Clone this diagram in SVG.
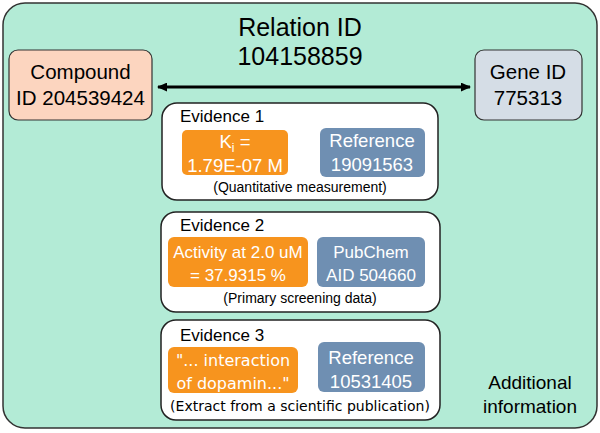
<svg xmlns="http://www.w3.org/2000/svg" width="600" height="433" viewBox="0 0 600 433">
<defs>
<style>
text{font-family:"Liberation Sans",Arial,sans-serif;text-anchor:middle}
.big{font-size:25px;fill:#000}
.lab{font-size:20.5px;fill:#000}
.add{font-size:19px;fill:#000}
.ev{font-size:17px;fill:#000;text-anchor:start}
.wt{font-size:18.5px;fill:#fff}
.wt2{font-size:17px;fill:#fff}
.wt3{font-family:"DejaVu Sans",Verdana,sans-serif;font-size:16px;fill:#fff}
.sm{font-size:14px;fill:#000}
.sm3{font-family:"DejaVu Sans",Verdana,sans-serif;font-size:14px;fill:#000}
.evbox{fill:#fff;stroke:#222;stroke-width:1.5}
.or{fill:#f7941e}
.bl{fill:#6f8fb2}
</style>
<marker id="ah" viewBox="0 0 10 10" refX="9" refY="5" markerWidth="3.4" markerHeight="3" orient="auto-start-reverse" markerUnits="strokeWidth" preserveAspectRatio="none">
<path d="M0,0 L10,5 L0,10 z" fill="#000"/>
</marker>
</defs>
<rect width="600" height="433" fill="#fff"/>
<g id="relation">
<rect x="3" y="3" width="594" height="425" rx="22" fill="#b3ebd6" stroke="#333" stroke-width="1.5"/>
<text class="big" x="300" y="36">Relation ID</text>
<text class="big" x="300" y="65">104158859</text>
<text class="add" x="530" y="389">Additional</text>
<text class="add" x="530" y="413">information</text>
</g>
<g id="compound">
<rect x="9" y="50" width="143" height="70" rx="9" fill="#fcd5bf" stroke="#333" stroke-width="1.2"/>
<text class="lab" x="80.5" y="79">Compound</text>
<text class="lab" x="80.5" y="105">ID 204539424</text>
</g>
<g id="gene">
<rect x="475" y="50" width="107" height="70" rx="9" fill="#d5dde6" stroke="#333" stroke-width="1.2"/>
<text class="lab" x="528" y="79">Gene ID</text>
<text class="lab" x="528" y="105">775313</text>
</g>
<g id="connectors">
<line x1="158" y1="87" x2="470" y2="87" stroke="#000" stroke-width="3" marker-start="url(#ah)" marker-end="url(#ah)"/>
</g>
<g id="evidence1">
<rect class="evbox" x="162" y="103" width="276" height="97" rx="15"/>
<text class="ev" x="180" y="122">Evidence 1</text>
<rect class="or" x="182" y="130" width="106" height="45" rx="5"/>
<text class="wt" x="235" y="148">K<tspan font-size="12" dy="4">i</tspan><tspan dy="-4"> =</tspan></text>
<text class="wt" x="235" y="172">1.79E-07 M</text>
<rect class="bl" x="320" y="128" width="105" height="49" rx="6"/>
<text class="wt" x="372" y="147">Reference</text>
<text class="wt" x="372" y="171">19091563</text>
<text class="sm" x="300" y="192">(Quantitative measurement)</text>
</g>
<g id="evidence2">
<rect class="evbox" x="161" y="212" width="279" height="100" rx="15"/>
<text class="ev" x="180" y="231">Evidence 2</text>
<rect class="or" x="168" y="237" width="140" height="50" rx="6"/>
<text class="wt2" x="238" y="258">Activity at 2.0 uM</text>
<text class="wt2" x="238" y="281">= 37.9315 %</text>
<rect class="bl" x="317" y="237" width="108" height="50" rx="6"/>
<text class="wt2" x="371" y="258">PubChem</text>
<text class="wt2" x="371" y="281">AID 504660</text>
<text class="sm" x="300" y="303">(Primary screening data)</text>
</g>
<g id="evidence3">
<rect class="evbox" x="161" y="320" width="279" height="100" rx="15"/>
<text class="ev" x="180" y="341">Evidence 3</text>
<rect class="or" x="168" y="347" width="130" height="46" rx="6"/>
<text class="wt3" x="233" y="366">"... interaction</text>
<text class="wt3" x="233" y="389">of dopamin..."</text>
<rect class="bl" x="318" y="342" width="107" height="50" rx="6"/>
<text class="wt" x="371" y="364">Reference</text>
<text class="wt" x="371" y="388">10531405</text>
<text class="sm3" x="300" y="411">(Extract from a scientific publication)</text>
</g>
</svg>
